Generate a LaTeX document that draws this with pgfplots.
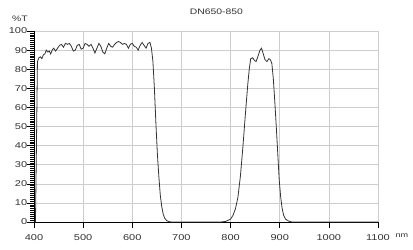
\documentclass[border=0pt]{standalone}
\usepackage{fontspec}
\setmainfont[FakeStretch=1.3]{Liberation Sans}
\usepackage{pgfplots}
\pgfplotsset{compat=1.18}
\definecolor{gridc}{RGB}{205,205,205}
\definecolor{txt}{RGB}{50,50,50}
\begin{document}
\begin{tikzpicture}
\useasboundingbox (-34bp,-28bp) rectangle (379bp,222bp);
\begin{axis}[
  at={(0,0)}, anchor=south west,
  scale only axis, width=344bp, height=191bp,
  xmin=400, xmax=1100, ymin=0, ymax=100,
  xtick={400,500,...,1100}, ytick={0,10,...,100},
  minor y tick num=9,
  axis x line*=bottom, axis y line*=left,
  axis line style={black, line width=0.7pt},
  tick align=outside,
  xtick style={black, line width=0.6pt, /pgfplots/major tick length=6bp},
  ytick style={black, line width=0.5pt, /pgfplots/major tick length=7bp, /pgfplots/minor tick length=3.5bp},
  grid=major, major grid style={gridc, line width=0.5pt},
  tick label style={font=\fontsize{8.5}{9}\selectfont, text=txt},
  /pgf/number format/assume math mode=true,
  /pgf/number format/1000 sep={},
  xticklabel style={yshift=-5bp},
  yticklabel style={xshift=1bp},
  title={DN650-850},
  title style={at={(0.53,1)}, font=\fontsize{8}{9}\selectfont, text=txt, yshift=7bp},
  clip=false,
]
\addplot[color=black!80, line width=0.8pt] coordinates {
(400,0) (403,0) (405,40) (407,84) (410,86) (413,86.5) (416,85.5) (419,87.5) (422,88) (425,90)
(428,89) (431,89.5) (434,88) (437,90) (440,91) (444,89.5) (448,91) (452,92.5) (456,93) (460,91.5)
(464,93.5) (468,93) (472,93.5) (476,92) (480,89.5) (484,90) (488,92.5) (492,93) (496,90.5) (500,91)
(504,93.5) (508,93) (512,92) (516,93) (520,91) (524,88.5) (528,91) (532,93.5) (536,92) (540,89)
(544,88) (548,91) (552,93.5) (556,92) (560,91.5) (564,93) (568,94) (572,94.5) (576,94) (580,93)
(584,93.5) (588,93) (592,91) (596,93) (600,93.5) (604,92) (608,91.5) (612,90) (616,92.5) (620,94)
(624,92.5) (628,91) (632,93.5) (636,94) (639,91) (642,84) (645,70) (648,52) (651,36) (654,24)
(657,14) (660,8) (663,4) (666,2) (670,0.7) (675,0.2) (680,0) (780,0) (790,0.3) (800,1.5)
(805,3.5) (810,7) (815,13) (820,24) (825,39) (830,56) (835,72) (838,80) (841,85.5) (845,86)
(849,84.5) (852,84) (856,87) (860,90) (863,91) (866,88.5) (870,85) (874,84) (878,85.5) (881,85)
(884,83) (887,75) (890,63) (893,50) (896,36) (899,22) (902,13) (905,7) (908,3.5) (912,1.5)
(918,0.5) (925,0) (1100,0)
};
\node[font=\fontsize{8}{9}\selectfont, text=txt] at (axis cs:400,100) [xshift=-14bp, yshift=12bp] {\%T};
\node[font=\fontsize{7}{8}\selectfont, text=txt] at (axis cs:1100,0) [xshift=24bp, yshift=-14bp] {nm};
\end{axis}
\end{tikzpicture}
\end{document}
